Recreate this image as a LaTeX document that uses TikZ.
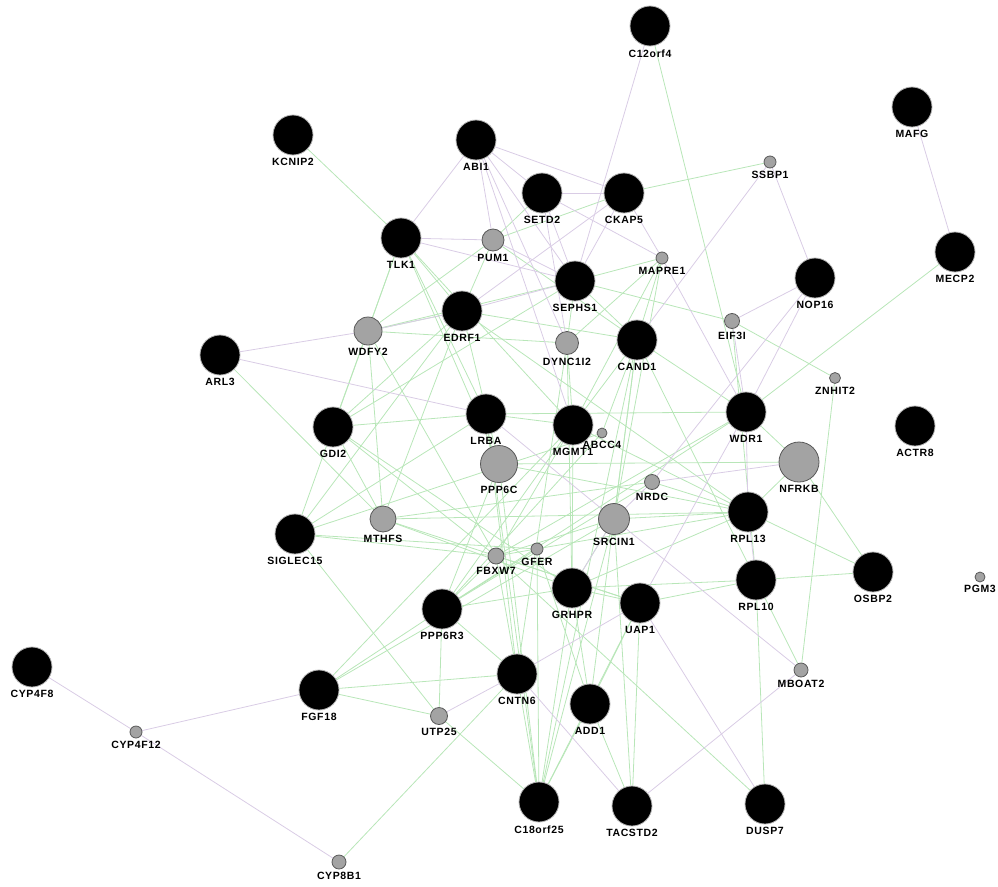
\documentclass[tikz,border=0pt]{standalone}
\usepackage{fontspec}
\newfontfamily\labfont{Liberation Sans}[LetterSpace=6]
\pgfdeclarelayer{bg}
\pgfsetlayers{bg,main}
\definecolor{eg}{HTML}{B8E6B8}
\definecolor{ep}{HTML}{D9CCE5}
\definecolor{gfill}{HTML}{A3A3A3}
\begin{document}
\begin{tikzpicture}[x=1pt,y=-1pt,
  big/.style={circle,fill=black,draw=gray!60,line width=0.8pt,minimum size=40pt,inner sep=0pt},
  sm/.style={circle,fill=gfill,draw=black!65,line width=0.8pt,minimum size=#1,inner sep=0pt},
  lab/.style={font=\labfont\bfseries\fontsize{10.5}{11}\selectfont,inner sep=1pt,text=black},
  lb/.style={label={[lab,label distance=2pt]below:#1}},
  ge/.style={draw=eg,line width=0.8pt},
  pe/.style={draw=ep,line width=0.8pt}]
\useasboundingbox (0,0) rectangle (998,886);
% big nodes
\node[big,lb=C12orf4] (C12orf4) at (650,26) {};
\node[big,lb=MAFG] (MAFG) at (912,107) {};
\node[big,lb=KCNIP2] (KCNIP2) at (293,135) {};
\node[big,lb=ABI1] (ABI1) at (476,140) {};
\node[big,lb=SETD2] (SETD2) at (542,193) {};
\node[big,lb=CKAP5] (CKAP5) at (624,193) {};
\node[big,lb=TLK1] (TLK1) at (401,238) {};
\node[big,lb=MECP2] (MECP2) at (955,252) {};
\node[big,lb=SEPHS1] (SEPHS1) at (575,281) {};
\node[big,lb=NOP16] (NOP16) at (815,278) {};
\node[big,lb=EDRF1] (EDRF1) at (462,311) {};
\node[big,lb=CAND1] (CAND1) at (637,340) {};
\node[big,lb=ARL3] (ARL3) at (220,355) {};
\node[big,lb=GDI2] (GDI2) at (333,427) {};
\node[big,lb=LRBA] (LRBA) at (486,414) {};
\node[big,lb=MGMT1] (MGMT1) at (573,425) {};
\node[big,lb=WDR1] (WDR1) at (746,412) {};
\node[big,lb=ACTR8] (ACTR8) at (915,426) {};
\node[big,lb=SIGLEC15] (SIGLEC15) at (295,534) {};
\node[big,lb=RPL13] (RPL13) at (748,512) {};
\node[big,lb=OSBP2] (OSBP2) at (873,572) {};
\node[big,lb=GRHPR] (GRHPR) at (572,588) {};
\node[big,lb=UAP1] (UAP1) at (640,603) {};
\node[big,lb=RPL10] (RPL10) at (756,580) {};
\node[big,lb=PPP6R3] (PPP6R3) at (442,609) {};
\node[big,lb=CYP4F8] (CYP4F8) at (32,667) {};
\node[big,lb=FGF18] (FGF18) at (319,690) {};
\node[big,lb=CNTN6] (CNTN6) at (517,674) {};
\node[big,lb=ADD1] (ADD1) at (590,704) {};
\node[big,lb=C18orf25] (C18orf25) at (539,802) {};
\node[big,lb=TACSTD2] (TACSTD2) at (632,806) {};
\node[big,lb=DUSP7] (DUSP7) at (765,804) {};
% gray nodes
\node[sm=12pt,lb=SSBP1] (SSBP1) at (770,162) {};
\node[sm=22pt,lb=PUM1] (PUM1) at (493,240) {};
\node[sm=12pt,lb=MAPRE1] (MAPRE1) at (662,258) {};
\node[sm=28pt,lb=WDFY2] (WDFY2) at (368,331) {};
\node[sm=15pt,lb=EIF3I] (EIF3I) at (732,321) {};
\node[sm=23pt,lb=DYNC1I2] (DYNC1I2) at (567,343) {};
\node[sm=11pt,lb=ZNHIT2] (ZNHIT2) at (835,378) {};
\node[sm=10pt,lb=ABCC4] (ABCC4) at (602,433) {};
\node[sm=37pt,lb=PPP6C] (PPP6C) at (499,464) {};
\node[sm=40pt,lb=NFRKB] (NFRKB) at (799,462) {};
\node[sm=15pt,lb=NRDC] (NRDC) at (652,482) {};
\node[sm=26pt,lb=MTHFS] (MTHFS) at (383,519) {};
\node[sm=31pt,lb=SRCIN1] (SRCIN1) at (614,519) {};
\node[sm=16pt,lb=FBXW7] (FBXW7) at (496,556) {};
\node[sm=12pt,lb=GFER] (GFER) at (537,549) {};
\node[sm=10pt,lb=PGM3] (PGM3) at (980,577) {};
\node[sm=14pt,lb=MBOAT2] (MBOAT2) at (801,670) {};
\node[sm=17pt,lb=UTP25] (UTP25) at (439,716) {};
\node[sm=12pt,lb=CYP4F12] (CYP4F12) at (136,732) {};
\node[sm=14pt,lb=CYP8B1] (CYP8B1) at (339,862) {};
\begin{pgfonlayer}{bg}
\foreach \a/\b in {C12orf4/WDR1,MECP2/WDR1,SSBP1/CKAP5,KCNIP2/TLK1,TLK1/EDRF1,TLK1/GDI2,TLK1/MGMT1,TLK1/LRBA,TLK1/SIGLEC15,TLK1/PPP6C,
 PUM1/SETD2,PUM1/EDRF1,PUM1/CAND1,PUM1/WDFY2,PUM1/CKAP5,SEPHS1/MAPRE1,SEPHS1/CAND1,SEPHS1/DYNC1I2,SEPHS1/GDI2,SEPHS1/WDFY2,SEPHS1/EIF3I,
 MAPRE1/CAND1,MAPRE1/DYNC1I2,MAPRE1/MGMT1,MAPRE1/SRCIN1,EDRF1/WDFY2,EDRF1/GDI2,EDRF1/SIGLEC15,EDRF1/CAND1,EDRF1/PPP6C,EDRF1/MTHFS,EDRF1/RPL13,
 WDFY2/MTHFS,WDFY2/FBXW7,WDFY2/DYNC1I2,GDI2/LRBA,GDI2/MTHFS,GDI2/GRHPR,GDI2/FBXW7,ARL3/MTHFS,SIGLEC15/GFER,SIGLEC15/FBXW7,SIGLEC15/LRBA,SIGLEC15/UTP25,
 MTHFS/NRDC,MTHFS/GRHPR,MTHFS/UAP1,MTHFS/RPL13,LRBA/MGMT1,LRBA/WDR1,LRBA/CNTN6,LRBA/C18orf25,MGMT1/CAND1,MGMT1/DYNC1I2,MGMT1/GRHPR,MGMT1/RPL13,
 MGMT1/FBXW7,MGMT1/PPP6R3,PPP6C/NFRKB,PPP6C/RPL13,PPP6C/C18orf25,PPP6C/PPP6R3,CAND1/WDR1,CAND1/SRCIN1,CAND1/C18orf25,CAND1/RPL10,CAND1/ADD1,
 DYNC1I2/GRHPR,DYNC1I2/CNTN6,WDR1/NFRKB,WDR1/FBXW7,WDR1/PPP6R3,NFRKB/RPL13,NFRKB/OSBP2,RPL13/OSBP2,RPL13/SRCIN1,RPL13/FBXW7,RPL13/GRHPR,
 RPL10/UAP1,RPL10/GRHPR,RPL10/DUSP7,RPL10/MBOAT2,RPL10/OSBP2,ZNHIT2/MBOAT2,EIF3I/ZNHIT2,EIF3I/RPL10,NRDC/RPL13,NRDC/PPP6R3,
 SRCIN1/GRHPR,SRCIN1/FBXW7,SRCIN1/C18orf25,SRCIN1/TACSTD2,FBXW7/PPP6R3,FBXW7/CNTN6,FBXW7/DUSP7,FBXW7/UAP1,GFER/PPP6R3,GFER/C18orf25,GFER/ADD1,
 GRHPR/UAP1,GRHPR/ADD1,GRHPR/C18orf25,GRHPR/PPP6R3,UAP1/ADD1,UAP1/TACSTD2,UAP1/C18orf25,PPP6R3/FGF18,PPP6R3/UTP25,PPP6R3/CNTN6,
 FGF18/CNTN6,FGF18/UTP25,FGF18/SRCIN1,FGF18/MGMT1,CNTN6/C18orf25,ADD1/TACSTD2,ADD1/C18orf25,UTP25/C18orf25,CYP8B1/CNTN6,
 ABCC4/CAND1,ABCC4/PPP6R3,ABCC4/SIGLEC15}
  \draw[ge] (\a) -- (\b);
\foreach \a/\b in {C12orf4/SEPHS1,MAFG/MECP2,SSBP1/NOP16,SSBP1/CAND1,ABI1/TLK1,ABI1/SETD2,ABI1/CKAP5,ABI1/PUM1,ABI1/SEPHS1,ABI1/DYNC1I2,ABI1/MGMT1,
 TLK1/PUM1,TLK1/SEPHS1,PUM1/SEPHS1,SETD2/CKAP5,SETD2/SEPHS1,SETD2/MAPRE1,SETD2/DYNC1I2,CKAP5/MAPRE1,CKAP5/SEPHS1,CKAP5/EDRF1,
 EDRF1/SEPHS1,EDRF1/WDFY2,ARL3/WDFY2,ARL3/LRBA,NOP16/EIF3I,NOP16/WDR1,NOP16/NRDC,EIF3I/WDR1,MAPRE1/WDR1,WDR1/RPL13,RPL13/RPL10,
 NRDC/NFRKB,NRDC/SRCIN1,SRCIN1/MBOAT2,MBOAT2/TACSTD2,UAP1/DUSP7,CNTN6/UAP1,CNTN6/TACSTD2,UTP25/CNTN6,CYP4F8/CYP4F12,CYP4F12/FGF18,
 CYP4F12/CYP8B1,LRBA/SRCIN1,WDR1/UAP1,GRHPR/SRCIN1}
  \draw[pe] (\a) -- (\b);
\end{pgfonlayer}
\end{tikzpicture}
\end{document}
